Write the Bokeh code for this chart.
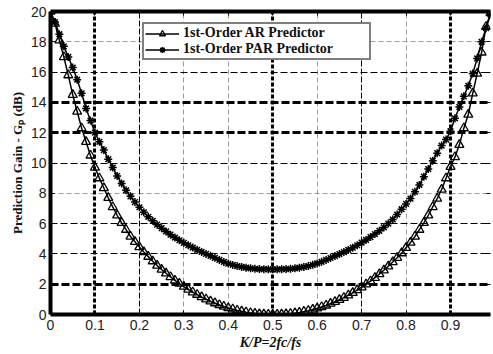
import numpy as np
from bokeh.plotting import figure
from bokeh.models import (Range1d, LinearAxis, FixedTicker, Grid, Legend, LegendItem,
                          CustomJSTickFormatter)
from bokeh.embed import file_html
from bokeh.resources import INLINE

# ---------------- data ----------------
x_vals = [0.00, 0.01, 0.02, 0.03, 0.04, 0.05, 0.06, 0.07, 0.08, 0.09,
          0.10, 0.11, 0.12, 0.13, 0.14, 0.15, 0.16, 0.17, 0.18, 0.19,
          0.20, 0.21, 0.22, 0.23, 0.24, 0.25, 0.26, 0.27, 0.28, 0.29,
          0.30, 0.31, 0.32, 0.33, 0.34, 0.35, 0.36, 0.37, 0.38, 0.39,
          0.40, 0.41, 0.42, 0.43, 0.44, 0.45, 0.46, 0.47, 0.48, 0.49,
          0.50, 0.51, 0.52, 0.53, 0.54, 0.55, 0.56, 0.57, 0.58, 0.59,
          0.60, 0.61, 0.62, 0.63, 0.64, 0.65, 0.66, 0.67, 0.68, 0.69,
          0.70, 0.71, 0.72, 0.73, 0.74, 0.75, 0.76, 0.77, 0.78, 0.79,
          0.80, 0.81, 0.82, 0.83, 0.84, 0.85, 0.86, 0.87, 0.88, 0.89,
          0.90, 0.91, 0.92, 0.93, 0.94, 0.95, 0.96, 0.97, 0.98, 0.99]

ar_gain = [20.0, 19.2, 18.1, 17.0, 15.8, 14.5, 13.4, 12.3, 11.4, 10.5,
           9.7, 9.0, 8.35, 7.7, 7.1, 6.55, 6.05, 5.6, 5.15, 4.8,
           4.45, 4.12, 3.82, 3.52, 3.23, 2.97, 2.72, 2.48, 2.25, 2.04,
           1.84, 1.65, 1.47, 1.31, 1.15, 1.01, 0.87, 0.75, 0.63, 0.53,
           0.43, 0.35, 0.27, 0.21, 0.15, 0.10, 0.06, 0.03, 0.015, 0.005,
           0.0, 0.0, 0.01, 0.025, 0.05, 0.09, 0.13, 0.19, 0.25, 0.33,
           0.41, 0.5, 0.6, 0.72, 0.84, 0.97, 1.11, 1.27, 1.43, 1.61,
           1.8, 2.0, 2.2, 2.43, 2.67, 2.92, 3.18, 3.46, 3.75, 4.05,
           4.4, 4.75, 5.15, 5.6, 6.05, 6.55, 7.1, 7.65, 8.25, 9.0,
           9.75, 10.4, 11.2, 12.3, 13.2, 14.6, 15.9, 17.3, 19.0, 19.9]

par_gain = [20.0, 19.3, 18.5, 17.7, 17.0, 16.3, 15.5, 14.6, 13.6, 12.8,
            12.0, 11.4, 10.85, 10.25, 9.7, 9.15, 8.65, 8.2, 7.8, 7.42,
            7.08, 6.75, 6.45, 6.18, 5.93, 5.7, 5.48, 5.27, 5.08, 4.9,
            4.73, 4.57, 4.42, 4.27, 4.13, 4.0, 3.87, 3.74, 3.6, 3.47,
            3.36, 3.27, 3.2, 3.14, 3.09, 3.05, 3.02, 3.0, 2.99, 2.98,
            2.98, 2.98, 2.99, 3.0, 3.02, 3.05, 3.09, 3.14, 3.2, 3.28,
            3.37, 3.48, 3.6, 3.73, 3.86, 3.99, 4.12, 4.26, 4.41, 4.57,
            4.74, 4.92, 5.11, 5.31, 5.52, 5.75, 6.0, 6.27, 6.6, 6.95,
            7.3, 7.65, 8.1, 8.55, 9.1, 9.6, 10.15, 10.65, 11.15, 11.55,
            12.1, 12.95, 13.7, 14.4, 15.1, 15.9, 16.9, 18.0, 18.9, 19.8]

series_names = ["1st-Order AR Predictor", "1st-Order PAR Predictor"]
x_ticks = [0.0, 0.1, 0.2, 0.3, 0.4, 0.5, 0.6, 0.7, 0.8, 0.9]
y_ticks = [0, 2, 4, 6, 8, 10, 12, 14, 16, 18, 20]
x_title = "K/P=2fc/fs"
y_title = "Prediction Gain - G\u209a (dB)"

# grid groupings (style classes)
x_grid_thick = [0.1, 0.5, 0.9]
x_grid_black = [0.2, 0.7]
x_grid_gray = [0.3, 0.4, 0.6, 0.8]
y_grid_thick = [2, 12, 14]
y_grid_black = [4, 6, 10, 16]
y_grid_gray = [8, 18]

# ---------------- figure ----------------
p = figure(width=493, height=354, x_range=Range1d(0, 0.99), y_range=Range1d(0, 20),
           output_backend="svg", toolbar_location=None,
           min_border_left=50, min_border_right=3, min_border_top=11, min_border_bottom=40)
p.outline_line_color = None
p.background_fill_color = "white"
p.border_fill_color = "white"
p.xgrid.visible = False
p.ygrid.visible = False

tick_font = "Liberation Sans"

xa = p.xaxis[0]
xa.ticker = FixedTicker(ticks=x_ticks)
ya = p.yaxis[0]
ya.ticker = FixedTicker(ticks=y_ticks)
for ax in (xa, ya):
    ax.axis_line_width = 4
    ax.axis_line_color = "black"
    ax.major_tick_in = 4
    ax.major_tick_out = 0
    ax.minor_tick_in = 0
    ax.minor_tick_out = 0
    ax.major_tick_line_color = "black"
    ax.major_label_text_font = tick_font
    ax.major_label_text_font_size = "14px"
    ax.major_label_text_color = "#222222"
xa.major_label_standoff = 5
ya.major_label_standoff = 4

ya.axis_label = y_title
ya.axis_label_text_font = "Liberation Serif"
ya.axis_label_text_font_style = "bold"
ya.axis_label_text_font_size = "13px"
ya.axis_label_standoff = 3
ya.axis_label_text_color = "#111111"

xa.axis_label = x_title
xa.axis_label_text_font = "Liberation Serif"
xa.axis_label_text_font_style = "bold italic"
xa.axis_label_text_font_size = "14px"
xa.axis_label_standoff = 2
xa.axis_label_text_color = "#111111"

top = LinearAxis(ticker=FixedTicker(ticks=x_ticks), formatter=CustomJSTickFormatter(code="return ''"),
                 axis_line_width=4, major_tick_in=4, major_tick_out=0,
                 minor_tick_in=0, minor_tick_out=0, major_label_standoff=0,
                 major_label_text_font_size="1px")
p.add_layout(top, "above")
right = LinearAxis(ticker=FixedTicker(ticks=y_ticks), formatter=CustomJSTickFormatter(code="return ''"),
                   axis_line_color=None, major_tick_in=4, major_tick_out=0,
                   minor_tick_in=0, minor_tick_out=0, major_label_standoff=0,
                   major_label_text_font_size="1px")
p.add_layout(right, "right")

# ---------------- grids ----------------
def add_grid(dim, ticks, color, width, dash):
    g = Grid(dimension=dim, ticker=FixedTicker(ticks=ticks),
             grid_line_color=color, grid_line_width=width, grid_line_dash=dash)
    p.add_layout(g)

add_grid(0, x_grid_gray, "#9a9a9a", 1, "5 3")
add_grid(1, y_grid_gray, "#9a9a9a", 1, "5 3")
add_grid(0, x_grid_black, "black", 1, "6 2")
add_grid(1, y_grid_black, "black", 1, "7 3")
add_grid(0, x_grid_thick, "black", 3, "4 2")
add_grid(1, y_grid_thick, "black", 3, "8 3")

# ---------------- series ----------------
l1 = p.line(x_vals, ar_gain, line_color="black", line_width=1.5)
m1 = p.scatter(x_vals, ar_gain, marker="triangle", size=9, line_color="black",
               fill_color=None, line_width=1.3)
l2 = p.line(x_vals, par_gain, line_color="black", line_width=1.5)
m2 = p.scatter(x_vals, par_gain, marker="asterisk", size=8, line_color="black",
               line_width=1.5)

legend = Legend(items=[LegendItem(label=series_names[0], renderers=[l1, m1]),
                       LegendItem(label=series_names[1], renderers=[l2, m2])],
                location=(92, 254))
legend.label_text_font = "Liberation Serif"
legend.label_text_font_style = "bold"
legend.label_text_font_size = "14px"
legend.label_text_color = "#111111"
legend.border_line_color = "black"
legend.border_line_width = 2.5
legend.background_fill_color = "white"
legend.background_fill_alpha = 1
legend.padding = 1
legend.spacing = 0
legend.margin = 0
legend.glyph_width = 34
legend.glyph_height = 15
legend.label_height = 15
legend.label_standoff = 4
legend.label_width = 185
p.add_layout(legend, "center")

open("out.html", "w").write(file_html(p, INLINE))
